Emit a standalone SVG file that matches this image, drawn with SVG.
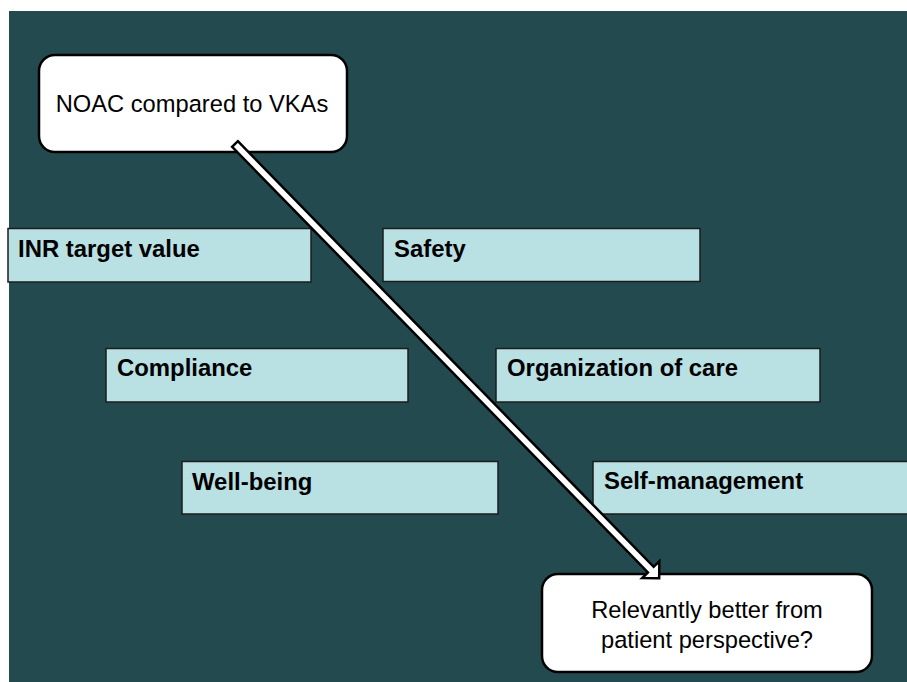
<svg xmlns="http://www.w3.org/2000/svg" width="907" height="682" viewBox="0 0 907 682">
<style>
.lbl{fill:#B9E0E3;stroke:#1c1c1c;stroke-width:1.5}
.lt{font-family:"Liberation Sans",Arial,sans-serif;font-weight:bold;font-size:23.9px;fill:#000}
.rb{fill:#fff;stroke:#000;stroke-width:2.5}
.nt{font-family:"Liberation Sans",Arial,sans-serif;font-size:23.7px;fill:#000;text-anchor:middle}
</style>
<rect x="0" y="0" width="907" height="682" fill="#fff"/>
<rect x="9" y="11" width="898" height="671" fill="#234B4F"/>
<g id="inr"><rect class="lbl" x="8" y="228.5" width="303" height="53.5"/><text class="lt" x="18" y="257">INR target value</text></g>
<g id="safety"><rect class="lbl" x="383" y="228.5" width="317" height="53"/><text class="lt" x="394" y="257">Safety</text></g>
<g id="compliance"><rect class="lbl" x="106" y="348.5" width="302" height="53.5"/><text class="lt" x="117" y="376">Compliance</text></g>
<g id="organization"><rect class="lbl" x="496" y="348.5" width="324" height="53.5"/><text class="lt" x="507" y="376">Organization of care</text></g>
<g id="wellbeing"><rect class="lbl" x="182" y="461.5" width="316" height="52.5"/><text class="lt" x="192" y="490">Well-being</text></g>
<g id="selfmanagement"><rect class="lbl" x="593" y="461.5" width="330" height="52.5"/><text class="lt" x="604" y="489">Self-management</text></g>
<g id="noac"><rect class="rb" x="39" y="55" width="308" height="97" rx="16"/><text class="nt" x="192" y="112">NOAC compared to VKAs</text></g>
<g id="relevantly"><rect class="rb" x="542" y="574" width="330" height="98" rx="16"/><text class="nt" x="707" y="618">Relevantly better from</text><text class="nt" x="707" y="648">patient perspective?</text></g>
<g id="connectors">
<polygon transform="translate(235,144) rotate(45.67)" points="0,-4 595,-4 595,-12 607,0 595,12 595,4 0,4" fill="#fff" stroke="#000" stroke-width="2.5" stroke-linejoin="miter"/>
</g>
</svg>
